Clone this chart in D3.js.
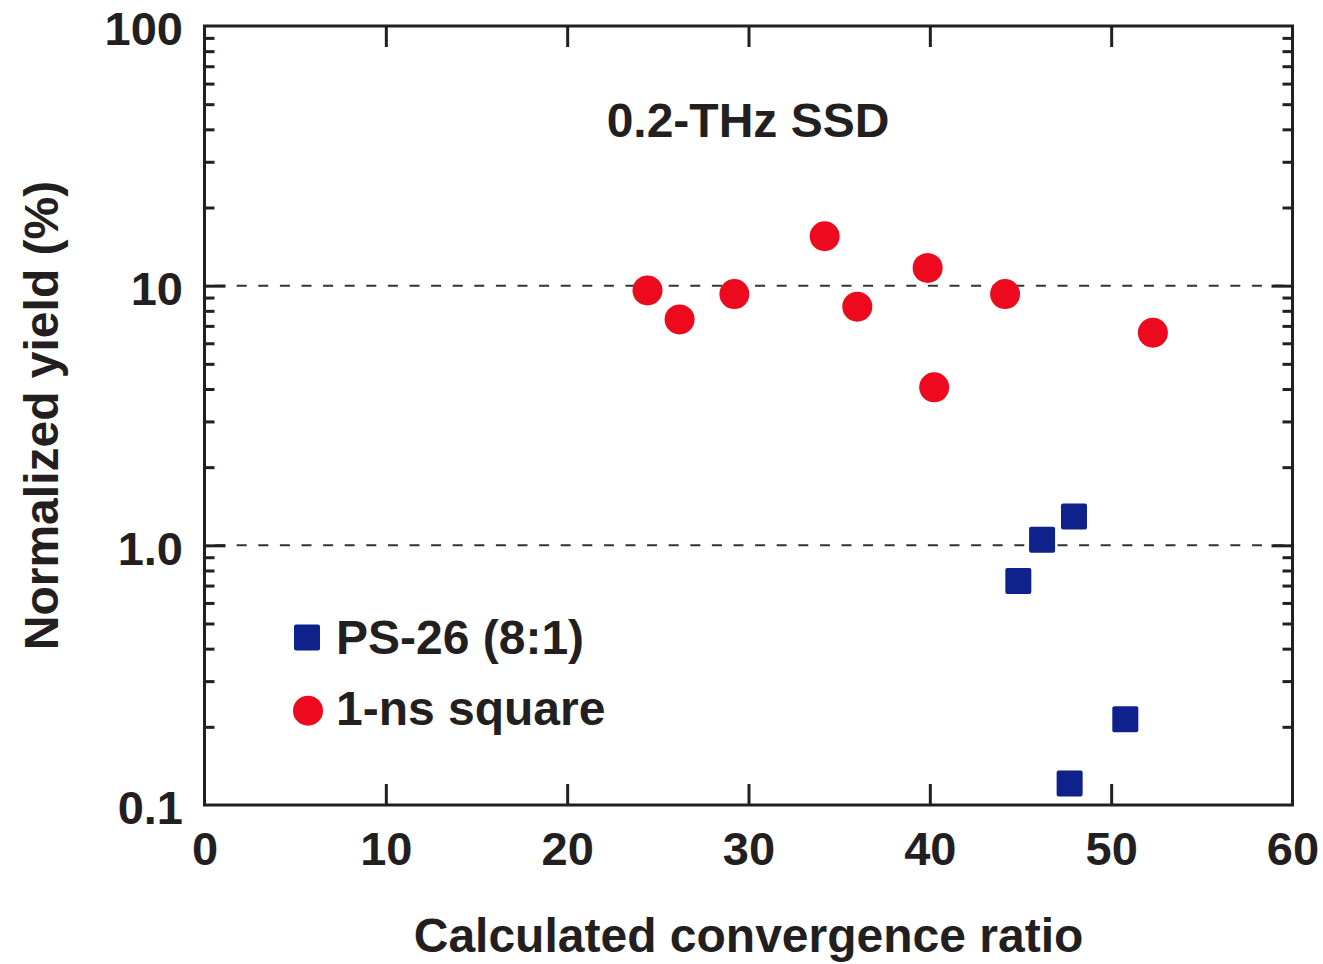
<!DOCTYPE html>
<html>
<head>
<meta charset="utf-8">
<script src="https://cdn.jsdelivr.net/npm/d3@7"></script>
<style>
  html, body { margin: 0; padding: 0; background: #fff; }
  svg { display: block; }
  text { font-family: "Liberation Sans", Arial, Helvetica, sans-serif; font-weight: bold; fill: #231f20; }
</style>
</head>
<body>
<svg id="chart" width="1323" height="964"></svg>
<script>
// ---- data ----
const psX = [44.88, 46.19, 47.95, 50.78, 47.71];
const psY = [0.729, 1.05, 1.29, 0.214, 0.121];
const sqX = [24.43, 26.2, 29.22, 34.2, 36.0, 39.88, 40.24, 44.15, 52.3];
const sqY = [9.59, 7.41, 9.28, 15.5, 8.30, 11.7, 4.06, 9.28, 6.59];
const xTicks = [0, 10, 20, 30, 40, 50, 60];
const yMajor = [0.1, 1, 10, 100];
const yLabels = ["0.1", "1.0", "10", "100"];
const gridLines = [1, 10];
const seriesNames = ["PS-26 (8:1)", "1-ns square"];
const titleText = "0.2-THz SSD";
const xTitle = "Calculated convergence ratio";
const yTitle = "Normalized yield (%)";

const ink = "#231f20";
const blue = "#0f218b";
const red = "#ed0a1f";

const svg = d3.select("#chart");
const L = 204.5, R = 1292.5, T = 26, B = 805;

const x = d3.scaleLinear().domain([0, 60]).range([L, R]);
const y = d3.scaleLog().domain([0.1, 100]).range([B, T]);

const yMinor = [];
[0.1, 1, 10].forEach(d => { for (let k = 2; k <= 9; k++) yMinor.push(+(d * k).toPrecision(3)); });

// grid dashed lines
svg.append("g").selectAll("line").data(gridLines).join("line")
  .attr("x1", L).attr("x2", R)
  .attr("y1", d => y(d)).attr("y2", d => y(d))
  .attr("stroke", "#333").attr("stroke-width", 2)
  .attr("stroke-dasharray", "10,11.6").attr("stroke-dashoffset", 11);

function styleAxis(g) {
  g.select(".domain").remove();
  g.selectAll(".tick line").attr("stroke", ink).attr("stroke-width", 3);
  g.selectAll(".tick text").style("font-size", "47px").attr("fill", ink);
}

// bottom axis
svg.append("g").attr("transform", `translate(0,${B})`)
  .call(d3.axisBottom(x).tickValues(xTicks).tickSize(-21).tickPadding(27).tickFormat(d3.format("d")))
  .call(styleAxis)
  .call(g => g.selectAll(".tick line").filter(d => d === 0 || d === 60).remove());

// top axis ticks
svg.append("g").attr("transform", `translate(0,${T})`)
  .call(d3.axisTop(x).tickValues(xTicks.filter(d => d > 0 && d < 60)).tickSize(-21).tickFormat(""))
  .call(styleAxis);

// left axis major
svg.append("g").attr("transform", `translate(${L},0)`)
  .call(d3.axisLeft(y).tickValues(yMajor).tickSize(-21).tickPadding(21.5)
        .tickFormat((d, i) => yLabels[i]))
  .call(styleAxis)
  .call(g => g.selectAll(".tick text").attr("dy", "0.4em"))
  .call(g => g.selectAll(".tick line").filter(d => d === 0.1 || d === 100).remove());

// left axis minor
svg.append("g").attr("transform", `translate(${L},0)`)
  .call(d3.axisLeft(y).tickValues(yMinor).tickSize(-10).tickFormat(""))
  .call(styleAxis);

// right axis major + minor
svg.append("g").attr("transform", `translate(${R},0)`)
  .call(d3.axisRight(y).tickValues(yMajor.filter(d => d > 0.1 && d < 100)).tickSize(-21).tickFormat(""))
  .call(styleAxis);
svg.append("g").attr("transform", `translate(${R},0)`)
  .call(d3.axisRight(y).tickValues(yMinor).tickSize(-10).tickFormat(""))
  .call(styleAxis);

// frame
svg.append("rect").attr("x", L).attr("y", T).attr("width", R - L).attr("height", B - T)
  .attr("fill", "none").attr("stroke", ink).attr("stroke-width", 3);

// data: squares
const sq = 26;
svg.append("g").selectAll("rect").data(psX.map((d, i) => [d, psY[i]])).join("rect")
  .attr("x", d => x(d[0]) - sq / 2).attr("y", d => y(d[1]) - sq / 2)
  .attr("width", sq).attr("height", sq).attr("rx", 2)
  .attr("fill", blue);

// data: circles
svg.append("g").selectAll("circle").data(sqX.map((d, i) => [d, sqY[i]])).join("circle")
  .attr("cx", d => x(d[0])).attr("cy", d => y(d[1])).attr("r", 15)
  .attr("fill", red);

// legend
svg.append("rect").attr("x", 307 - sq / 2).attr("y", 637.5 - sq / 2)
  .attr("width", sq).attr("height", sq).attr("rx", 2).attr("fill", blue);
svg.append("circle").attr("cx", 308).attr("cy", 710.7).attr("r", 15).attr("fill", red);
svg.append("text").attr("x", 336).attr("y", 654).style("font-size", "48px").text(seriesNames[0]);
svg.append("text").attr("x", 336).attr("y", 725).style("font-size", "48px").text(seriesNames[1]);

// chart title
svg.append("text").attr("x", 748).attr("y", 137).attr("text-anchor", "middle")
  .style("font-size", "48px").text(titleText);

// axis titles
svg.append("text").attr("x", 748.5).attr("y", 952).attr("text-anchor", "middle")
  .style("font-size", "48px").text(xTitle);
svg.append("text").attr("transform", "translate(58,415.5) rotate(-90)").attr("text-anchor", "middle")
  .style("font-size", "48px").text(yTitle);
</script>
</body>
</html>
